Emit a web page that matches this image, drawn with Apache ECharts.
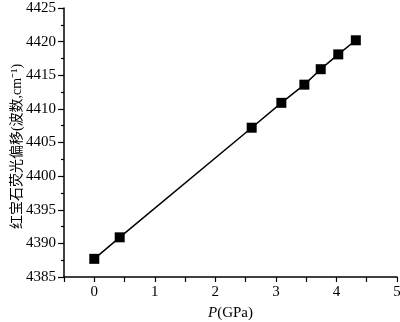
<!DOCTYPE html>
<html>
<head>
<meta charset="utf-8">
<script src="https://cdn.jsdelivr.net/npm/echarts@6/dist/echarts.min.js"></script>
<style>
  html, body { margin: 0; padding: 0; background: #fff; }
  #chart { width: 400px; height: 322px; }
</style>
</head>
<body>
<div id="chart"></div>
<script>
// Ruby fluorescence shift versus pressure
const pressureGPa = [0, 0.42, 2.60, 3.09, 3.47, 3.74, 4.03, 4.32];
const waveNumber = [4387.7, 4390.9, 4407.2, 4410.9, 4413.6, 4415.9, 4418.1, 4420.2];

const xTicks = [0, 1, 2, 3, 4, 5];
const yTicks = [4385, 4390, 4395, 4400, 4405, 4410, 4415, 4420, 4425];

const serif = '"Liberation Serif", "Times New Roman", "Noto Sans CJK SC", serif';

const chart = echarts.init(document.getElementById('chart'), null, { renderer: 'canvas' });

chart.setOption({
  animation: false,
  backgroundColor: '#fff',
  grid: { left: 64, right: 3, top: 8, bottom: 45, containLabel: false, outerBoundsMode: 'none' },
  xAxis: {
    type: 'value',
    min: -0.5,
    max: 5,
    interval: 0.5,
    name: '{i|P}(GPa)',
    nameLocation: 'middle',
    nameGap: 29,
    nameMoveOverlap: false,
    nameTextStyle: {
      fontFamily: serif, fontSize: 15, color: '#000',
      rich: {
        i: { fontFamily: serif, fontSize: 15, fontStyle: 'italic', color: '#000' }
      }
    },
    axisLine: { show: true, onZero: false, lineStyle: { color: '#000', width: 1.5 } },
    axisTick: { show: true, inside: false, length: 5, lineStyle: { color: '#000', width: 1.2 } },
    axisLabel: {
      margin: 8,
      fontFamily: serif, fontSize: 15, color: '#000',
      formatter: v => (xTicks.indexOf(Math.round(v * 100) / 100) >= 0 ? String(v) : '')
    },
    splitLine: { show: false }
  },
  yAxis: {
    type: 'value',
    min: yTicks[0],
    max: yTicks[yTicks.length - 1],
    interval: 5,
    name: '红宝石荧光偏移(波数,cm⁻¹)',
    nameLocation: 'middle',
    nameGap: 40,
    nameMoveOverlap: false,
    nameTextStyle: { fontFamily: serif, fontSize: 14, color: '#000', padding: [0, 8, 0, 0] },
    axisLine: { show: true, onZero: false, lineStyle: { color: '#000', width: 1.5 } },
    axisTick: { show: true, inside: false, length: 6, lineStyle: { color: '#000', width: 1.2 } },
    minorTick: { show: true, splitNumber: 2, length: 3, lineStyle: { color: '#000', width: 1.2 } },
    axisLabel: {
      margin: 8, fontFamily: serif, fontSize: 15, color: '#000',
      formatter: v => String(v)
    },
    splitLine: { show: false },
    minorSplitLine: { show: false }
  },
  series: [{
    type: 'line',
    data: pressureGPa.map((p, i) => [p, waveNumber[i]]),
    symbol: 'rect',
    symbolSize: 10,
    showAllSymbol: true,
    lineStyle: { color: '#000', width: 1.5 },
    itemStyle: { color: '#000', borderWidth: 0 }
  }]
});
</script>
</body>
</html>
